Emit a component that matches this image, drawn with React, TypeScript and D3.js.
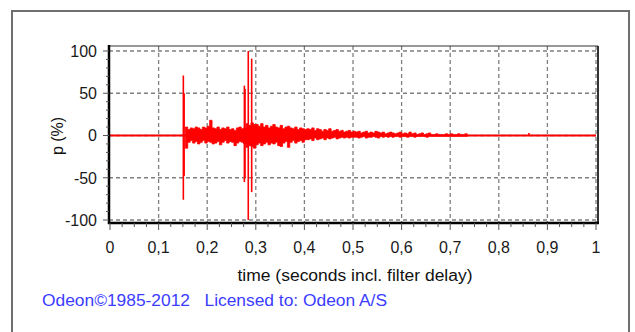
import React, { useEffect, useRef } from 'react';
import * as d3 from 'd3';

// axis ticks / labels
const xTicks = [0, 0.1, 0.2, 0.3, 0.4, 0.5, 0.6, 0.7, 0.8, 0.9, 1];
const xTickLabels = ['0', '0,1', '0,2', '0,3', '0,4', '0,5', '0,6', '0,7', '0,8', '0,9', '1'];
const yTicks = [-100, -50, 0, 50, 100];

const noiseStart = 0.155;
const noiseStep = 0.005;
const noiseHigh = [
  10, 7, 9, 8, 10, 9, 7, 10, 9, 11, 18, 9, 8, 10, 7, 9, 8, 10, 7, 8, 6, 9, 10, 8, 9,
  14, 12, 15, 13,
  13, 11, 14, 10, 12, 9, 11, 13, 10, 9, 12, 8, 10, 11, 9, 8, 10, 7, 9, 8, 7,
  8, 7, 9, 6, 8, 7, 5, 7, 6, 8, 5, 6, 7, 5, 6, 4, 5, 6, 4, 5,
  4, 5, 3, 4, 5, 3, 4, 3, 5, 4, 3, 4, 2, 3, 4, 3, 2, 3, 4, 2,
  3, 2, 4, 2, 3, 1, 2, 3, 1, 2, 3, 1, 1, 2, 1, 1, 1, 2, 1, 2, 1, 1, 2, 1, 1, 2, 1,
];
const noiseLow = [
  -15, -8, -6, -9, -7, -10, -8, -6, -9, -7, -8, -10, -9, -7, -11, -8, -6, -9, -7, -8, -12, -9, -7, -8, -10,
  -14, -12, -13, -15,
  -11, -9, -12, -10, -8, -11, -9, -10, -8, -12, -13, -9, -7, -14, -8, -6, -9, -7, -6, -8, -5,
  -5, -4, -6, -3, -5, -4, -3, -5, -3, -4, -3, -2, -4, -3, -2, -3, -2, -3, -2, -2,
  -2, -3, -2, -1, -3, -2, -2, -1, -2, -3, -1, -2, -1, -2, -1, -2, -1, -1, -2, -1,
  -1, -2, -1, -1, -2, -1, -1, -1, -1, -2, -1, -1, -1, -1, -1, -1, -1, -1, -1, -1, -1, -1, -1, -1, -1, -1, -1,
];

// direct sound and strong reflections
const spikeTime = [0.1509, 0.1525, 0.2765, 0.2778, 0.2845, 0.2915, 0.862];
const spikeHigh = [71, 50, 59, 55, 100, 91, 3];
const spikeLow = [-76, -48, -55, -50, -100, -67, 0];

const FONT = '"Liberation Sans", Arial, sans-serif';

export default function App() {
  const ref = useRef<SVGSVGElement>(null);

  useEffect(() => {
    const svg = d3.select(ref.current);
    svg.selectAll('*').remove();

    // frame of the plot area
    const frame = { left: 109, right: 598, top: 46, bottom: 223 };

    const x = d3.scaleLinear().domain([0, 1]).range([110, 596]);
    const y = d3.scaleLinear().domain([-100, 100]).range([220, 51]);

    // outer window border
    svg.append('rect')
      .attr('x', 12).attr('y', 11)
      .attr('width', 617).attr('height', 340)
      .attr('fill', 'white')
      .attr('stroke', '#6f6f6f')
      .attr('stroke-width', 2);

    // grid
    svg.append('g')
      .selectAll('line')
      .data(xTicks.slice(1))
      .enter()
      .append('line')
      .attr('x1', d => x(d)).attr('x2', d => x(d))
      .attr('y1', frame.top).attr('y2', frame.bottom)
      .attr('stroke', '#808080')
      .attr('stroke-width', 1.3)
      .attr('stroke-dasharray', '4,3');

    svg.append('g')
      .selectAll('line')
      .data(yTicks)
      .enter()
      .append('line')
      .attr('x1', frame.left).attr('x2', frame.right)
      .attr('y1', d => y(d)).attr('y2', d => y(d))
      .attr('stroke', '#808080')
      .attr('stroke-width', 1.3)
      .attr('stroke-dasharray', '4,3');

    // zero line (silence before / after)
    svg.append('line')
      .attr('x1', x(0)).attr('x2', x(1))
      .attr('y1', y(0)).attr('y2', y(0))
      .attr('stroke', '#ff0000')
      .attr('stroke-width', 2);

    // envelope of the tail
    const noise = noiseHigh.map((h, i) => ({ t: noiseStart + i * noiseStep, hi: h, lo: noiseLow[i] }));
    const area = d3.area<{ t: number; hi: number; lo: number }>()
      .x(d => x(d.t))
      .y0(d => y(d.lo))
      .y1(d => y(d.hi))
      .curve(d3.curveStepAfter);
    svg.append('path')
      .datum(noise)
      .attr('d', area)
      .attr('fill', '#ff0000')
      .attr('stroke', '#ff0000')
      .attr('stroke-width', 0.8);

    // spikes
    svg.append('g')
      .selectAll('line')
      .data(spikeTime)
      .enter()
      .append('line')
      .attr('x1', d => x(d)).attr('x2', d => x(d))
      .attr('y1', (d, i) => y(spikeHigh[i]))
      .attr('y2', (d, i) => y(spikeLow[i]))
      .attr('stroke', '#ff0000')
      .attr('stroke-width', 1.6);

    // frame: thin top, darker right, thick black left + bottom
    svg.append('line')
      .attr('x1', frame.left).attr('x2', frame.right)
      .attr('y1', frame.top).attr('y2', frame.top)
      .attr('stroke', '#333').attr('stroke-width', 1.2);
    svg.append('line')
      .attr('x1', frame.right).attr('x2', frame.right)
      .attr('y1', frame.top).attr('y2', frame.bottom)
      .attr('stroke', '#333').attr('stroke-width', 2);
    svg.append('line')
      .attr('x1', frame.left).attr('x2', frame.left)
      .attr('y1', frame.top - 1).attr('y2', frame.bottom + 1)
      .attr('stroke', '#000').attr('stroke-width', 2.5);
    svg.append('line')
      .attr('x1', frame.left - 1).attr('x2', frame.right + 1)
      .attr('y1', frame.bottom).attr('y2', frame.bottom)
      .attr('stroke', '#000').attr('stroke-width', 2.5);

    // y axis ticks
    const yMinor = d3.range(-100, 101, 10);
    svg.append('g')
      .selectAll('line')
      .data(yMinor)
      .enter()
      .append('line')
      .attr('x1', d => (d % 50 === 0 ? frame.left - 6 : frame.left - 3))
      .attr('x2', frame.left)
      .attr('y1', d => y(d)).attr('y2', d => y(d))
      .attr('stroke', '#555')
      .attr('stroke-width', 1);

    // x axis ticks
    const xMinor = d3.range(0, 40.5, 1).map(d => d / 40);
    svg.append('g')
      .selectAll('line')
      .data(xMinor)
      .enter()
      .append('line')
      .attr('x1', d => x(d)).attr('x2', d => x(d))
      .attr('y1', frame.bottom)
      .attr('y2', (d, i) => (i % 4 === 0 ? frame.bottom + 7 : frame.bottom + 4))
      .attr('stroke', '#555')
      .attr('stroke-width', 1);

    // tick labels
    svg.append('g')
      .selectAll('text')
      .data(yTicks)
      .enter()
      .append('text')
      .attr('x', 97)
      .attr('y', d => y(d))
      .attr('dy', '0.36em')
      .attr('text-anchor', 'end')
      .attr('font-family', FONT)
      .style('font-size', '16px')
      .attr('fill', '#1a1a1a')
      .text(d => String(d));

    svg.append('g')
      .selectAll('text')
      .data(xTicks)
      .enter()
      .append('text')
      .attr('x', d => x(d))
      .attr('y', 253)
      .attr('text-anchor', 'middle')
      .attr('font-family', FONT)
      .style('font-size', '16px')
      .attr('fill', '#1a1a1a')
      .text((d, i) => xTickLabels[i]);

    // axis titles
    svg.append('text')
      .attr('x', 355)
      .attr('y', 281)
      .attr('text-anchor', 'middle')
      .attr('font-family', FONT)
      .style('font-size', '16px')
      .attr('textLength', 235)
      .attr('lengthAdjust', 'spacingAndGlyphs')
      .attr('fill', '#111')
      .text('time (seconds incl. filter delay)');

    svg.append('text')
      .attr('transform', 'translate(63,136) rotate(-90)')
      .attr('text-anchor', 'middle')
      .attr('font-family', FONT)
      .style('font-size', '16px')
      .attr('fill', '#111')
      .text('p (%)');

    // licence line
    svg.append('text')
      .attr('x', 42)
      .attr('y', 306)
      .attr('font-family', FONT)
      .style('font-size', '16px')
      .attr('textLength', 345)
      .attr('lengthAdjust', 'spacingAndGlyphs')
      .attr('fill', '#3c3cff')
      .attr('xml:space', 'preserve')
      .text('Odeon\u00a91985-2012   Licensed to: Odeon A/S');
  }, []);

  return (
    <svg
      ref={ref}
      width={635}
      height={332}
      style={{ position: 'absolute', left: 0, top: 0, background: 'white' }}
    />
  );
}
